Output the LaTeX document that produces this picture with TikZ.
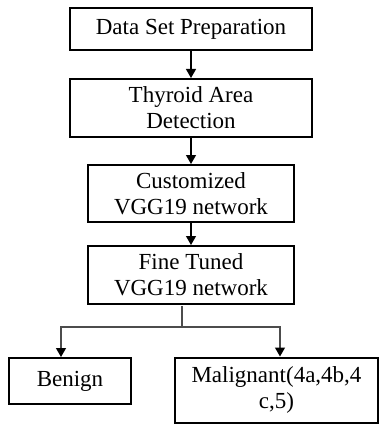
\documentclass[tikz,border=0pt]{standalone}
\usepackage{fontspec}
\setmainfont{Liberation Serif}
\usetikzlibrary{arrows.meta,calc}
\begin{document}
\begin{tikzpicture}[x=1pt,y=1pt,
  box/.style={draw=black,line width=2pt,align=center,inner sep=0pt,font=\fontsize{23}{26}\selectfont},
  arr/.style={-{Triangle[length=9pt,width=10pt]},line width=1.2pt},
  arrg/.style={-{Triangle[length=9pt,width=10pt,color=black]},line width=1.2pt,draw=black!70}]
\useasboundingbox (0,0) rectangle (380,-425);
\node[box,minimum width=242,minimum height=42] (b1) at (191,-29) {Data Set Preparation};
\node[box,minimum width=242,minimum height=58] (b2) at (191,-108) {Thyroid Area\\Detection};
\node[box,minimum width=206,minimum height=57] (b3) at (191,-193.5) {Customized\\VGG19 network};
\node[box,minimum width=206,minimum height=58] (b4) at (191,-275) {Fine Tuned\\VGG19 network};
\node[box,minimum width=122,minimum height=46] (ben) at (70,-381) {Benign};
\node[box,minimum width=203,minimum height=65] (mal) at (276.5,-390) {Malignant(4a,4b,4\\c,5)};
\draw[arr] (b1) -- (b2);
\draw[arr] (b2) -- (b3);
\draw[arr] (b3) -- (b4);
\coordinate (j) at (182,-327);
\draw[draw=black!70,line width=1.2pt] ($(b4.south)+(-9,-1)$) -- (j);
\draw[arrg] (j) -| ($(ben.north)+(-9,0)$);
\draw[arrg] (j) -| ($(mal.north)+(3.5,0)$);
\end{tikzpicture}
\end{document}
